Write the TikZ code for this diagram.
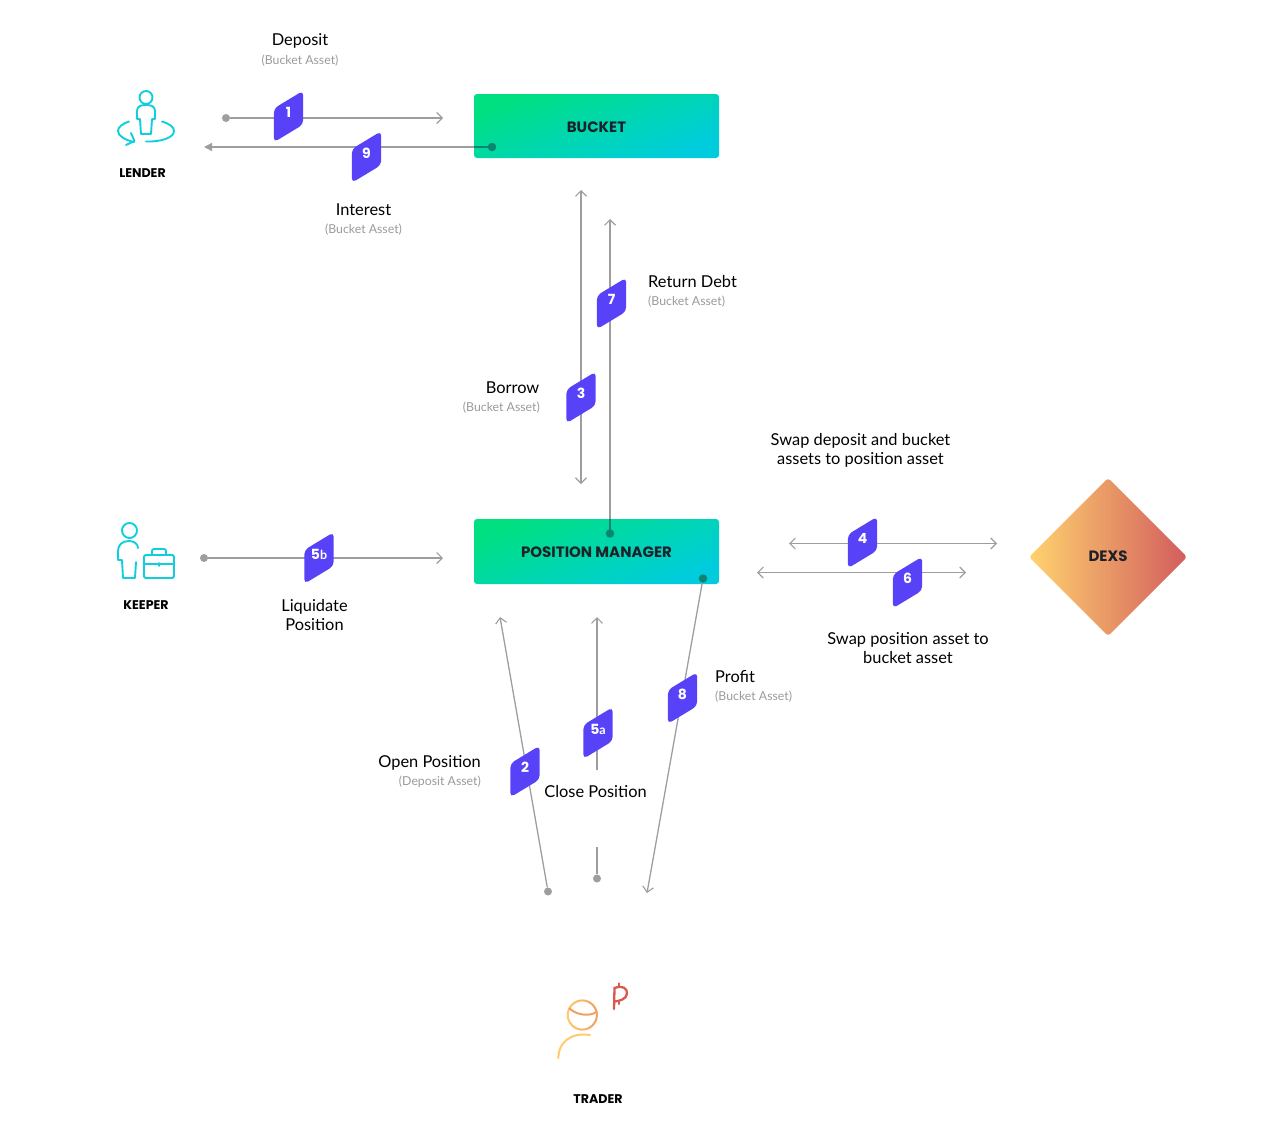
\documentclass[tikz,border=0pt]{standalone}
\usepackage{fontspec}
\setmainfont{Lato}
\newfontfamily\heavy{Poppins}
\usetikzlibrary{arrows.meta,calc}
\definecolor{lineg}{HTML}{9E9E9E}
\definecolor{badgec}{HTML}{5842F8}
\definecolor{iconc}{HTML}{10CEDC}
\definecolor{subc}{HTML}{9A9A9A}
\definecolor{inkc}{HTML}{1E2128}
\definecolor{gra}{HTML}{00E080}
\definecolor{grb}{HTML}{00CCDE}
\definecolor{dotc}{HTML}{0B8470}
\definecolor{daa}{HTML}{FFD36E}
\definecolor{dab}{HTML}{D25C5E}
\definecolor{trA}{HTML}{FFCB6B}
\definecolor{trB}{HTML}{EFA063}
\definecolor{trC}{HTML}{D9584F}
\tikzset{
 barb/.tip={Straight Barb[length=5.5pt,width=11pt,line width=1.1pt]},
 conn/.style={draw=lineg,line width=1.3pt},
 arr/.style={conn,-barb},
 arrb/.style={conn,barb-barb},
 arrt/.style={conn,-{Triangle[length=8pt,width=8pt]}},
 inbox/.style={draw=dotc,line width=1.3pt},
 dotn/.style={circle,fill=lineg,inner sep=0pt,minimum size=8pt},
 dotd/.style={circle,fill=dotc,inner sep=0pt,minimum size=8.5pt},
 lab/.style={font=\fontsize{16.4}{19}\selectfont,text=black,align=center,inner sep=0pt},
 sublab/.style={font=\fontsize{12.3}{14}\selectfont,text=subc,inner sep=0pt},
 caplab/.style={font=\heavy\bfseries\fontsize{12.6}{14}\selectfont,text=black,inner sep=0pt},
 boxt/.style={font=\heavy\bfseries\fontsize{15}{16}\selectfont,text=inkc,inner sep=0pt},
 badget/.style={font=\heavy\bfseries\fontsize{14}{15}\selectfont,text=white,inner sep=0pt},
 icon/.style={draw=iconc,line width=1.9pt,line cap=round,line join=round},
 boxshade/.style={rounded corners=3pt,left color=gra,right color=grb,shading angle=22},
}
\newcommand{\smallsuffix}[1]{{\rmfamily\bfseries\fontsize{12.5}{13}\selectfont #1}}
% #1 name, #2 centre x (badge), #3 centre y (badge), #4 text
\newcommand{\badgeat}[4]{%
 \fill[badgec,rounded corners=4.5pt] ($(#2,#3)+(-14.7,-8)$) -- ($(#2,#3)+(14.7,-25.8)$) -- ($(#2,#3)+(14.7,8)$) -- ($(#2,#3)+(-14.7,25.8)$) -- cycle;
 \node[badget] (#1) at (#2,#3-4) {#4};}
\begin{document}
\begin{tikzpicture}[x=1pt,y=-1pt]
\useasboundingbox (0,0) rectangle (1287,1133);
% boxes
\shade[boxshade] (474,94) rectangle (719,158);
\node[boxt] (bucket) at (596.5,127) {BUCKET};
\shade[boxshade] (474,519) rectangle (719,584);
\node[boxt] (pm) at (596.5,552.5) {POSITION MANAGER};
\shade[rounded corners=3pt,left color=daa,right color=dab,shading angle=90]
  (1108,478) -- (1187,557) -- (1108,636) -- (1029,557) -- cycle;
\node[boxt] (dexs) at (1108,556.5) {DEXS};
% anchors
\node[dotn] (d1) at (226,118) {};
\coordinate (a1) at (443,118);
\coordinate (a9) at (204,147);
\coordinate (e9) at (474,147);
\coordinate (c9) at (492,147);
\coordinate (a3t) at (581,190);
\coordinate (a3b) at (581,484);
\coordinate (a7t) at (610,219);
\coordinate (e7) at (610,519);
\coordinate (c7) at (610,533.5);
\node[dotn] (d5b) at (204,558) {};
\coordinate (a5b) at (443,558);
\coordinate (a4l) at (789,543.5);
\coordinate (a4r) at (997,543.5);
\coordinate (a6l) at (757,572.5);
\coordinate (a6r) at (966,572.5);
\node[dotn] (d2) at (548,891.5) {};
\coordinate (a2) at (500,617);
\node[dotn] (d5a) at (597,878.5) {};
\coordinate (s5a) at (597,847);
\coordinate (e5a) at (597,770);
\coordinate (a5a) at (597,617);
\coordinate (c8) at (703,578.5);
\coordinate (a8) at (647,893);
% connectors
\draw[arr] (d1) -- (a1);
\draw[arrt] (c9) -- (a9);
\draw[inbox] (e9) -- (c9);
\draw[arrb] (a3t) -- (a3b);
\draw[arr] (c7) -- (a7t);
\draw[inbox] (e7) -- (c7);
\draw[arr] (d5b) -- (a5b);
\draw[arrb] (a4l) -- (a4r);
\draw[arrb] (a6l) -- (a6r);
\draw[arr] (d2) -- (a2);
\draw[conn] (s5a) -- (d5a);
\draw[arr] (e5a) -- (a5a);
\draw[arr] (c8) -- (a8);
\node[dotd] (d9) at (c9) {};
\node[dotd] (d7) at (c7) {};
\node[dotd] (d8) at (c8) {};
% badges
\badgeat{b1}{288.5}{116.5}{1}
\badgeat{b9}{366.5}{157}{9}
\badgeat{b7}{611.5}{303.5}{7}
\badgeat{b3}{581}{397.5}{3}
\badgeat{b4}{862.5}{542.5}{4}
\badgeat{b6}{907.5}{582.5}{6}
\badgeat{b5b}{319}{558}{5\smallsuffix{b}}
\badgeat{b5a}{598}{733}{5\smallsuffix{a}}
\badgeat{b8}{682.5}{698}{8}
\badgeat{b2}{525}{771.5}{2}
% labels
\node[lab] (t1) at (300,41) {Deposit};
\node[sublab] (s1) at (300,61) {(Bucket Asset)};
\node[lab] (t9) at (363.5,209.5) {Interest};
\node[sublab] (s9) at (363.5,230) {(Bucket Asset)};
\node[lab,anchor=west] (t7) at (648,281.5) {Return Debt};
\node[sublab,anchor=west] (s7) at (648,302) {(Bucket Asset)};
\node[lab,anchor=east] (t3) at (539.5,387.5) {Borrow};
\node[sublab,anchor=east] (s3) at (540,408) {(Bucket Asset)};
\node[lab] (t4) at (860.5,450.5) {Swap deposit and bucket\\assets to position asset};
\node[lab] (t6) at (908,648) {Swap position asset to\\bucket asset};
\node[lab] (t5b) at (314.5,615) {Liquidate\\Position};
\node[lab,anchor=west] (t8) at (715,676.5) {Profit};
\node[sublab,anchor=west] (s8) at (715,697) {(Bucket Asset)};
\node[lab,anchor=east] (t2) at (481,763) {Open Position};
\node[sublab,anchor=east] (s2) at (481,782) {(Deposit Asset)};
\node[lab] (t5a) at (595.5,792) {Close Position};
\node[caplab] (lender) at (142.5,173) {LENDER};
\node[caplab] (keeper) at (146,605.5) {KEEPER};
\node[caplab] (trader) at (598,1099) {TRADER};
% lender icon
\draw[icon] (146,97.5) circle (6.5);
\draw[icon] (141,134) -- (140,119) -- (137,119) -- (137,111) .. controls (137,106) and (141,105) .. (146,105) .. controls (151,105) and (155,106) .. (155,111) -- (155,119) -- (152,119) -- (151,134) -- cycle;
\draw[icon] (129,121.5) .. controls (122,124) and (118,127) .. (118,131) .. controls (118,136) and (125,140) .. (134,142);
\draw[icon] (126,145) -- (134.5,141) -- (131,133);
\draw[icon] (162,121.5) .. controls (170,124) and (174,127) .. (174,131) .. controls (174,138) and (160,142) .. (146,141.5);
% keeper icon
\draw[icon] (129.5,530.5) circle (7.5);
\draw[icon] (138,548) .. controls (138,544) and (134,541) .. (129,541) .. controls (122,541) and (118,545) .. (118,551) -- (118,560) -- (122,560) -- (123,578) -- (135,578) -- (136,562);
\draw[icon,rounded corners=1.5pt] (144,555) rectangle (174,578);
\draw[icon] (144,564) -- (174,564);
\draw[icon,rounded corners=2pt] (152,555) -- (152,549) -- (166,549) -- (166,555);
\draw[icon] (159,563) -- (159,566);
% trader icon
\begin{scope}[line width=2pt,line cap=round]
\shade[left color=trA,right color=trB,even odd rule] (582.3,1015) circle (15.6) (582.3,1015) circle (13.6);
\draw[trB] (569.3,1008.3) .. controls (576,1015) and (590,1017) .. (596.7,1011.7);
\draw[trA] (558.3,1058) .. controls (558.3,1043) and (570,1032) .. (590,1035);
\draw[trC,line width=2.3pt] (614,1009) -- (614.5,988) .. controls (622,985) and (627.5,988) .. (627,993.5) .. controls (626.5,999) and (620,1001) .. (614.5,1001.5);
\draw[trC,line width=2.3pt] (619,983.5) -- (619,987) (619,1001) -- (619,1004);
\end{scope}
\end{tikzpicture}
\end{document}
